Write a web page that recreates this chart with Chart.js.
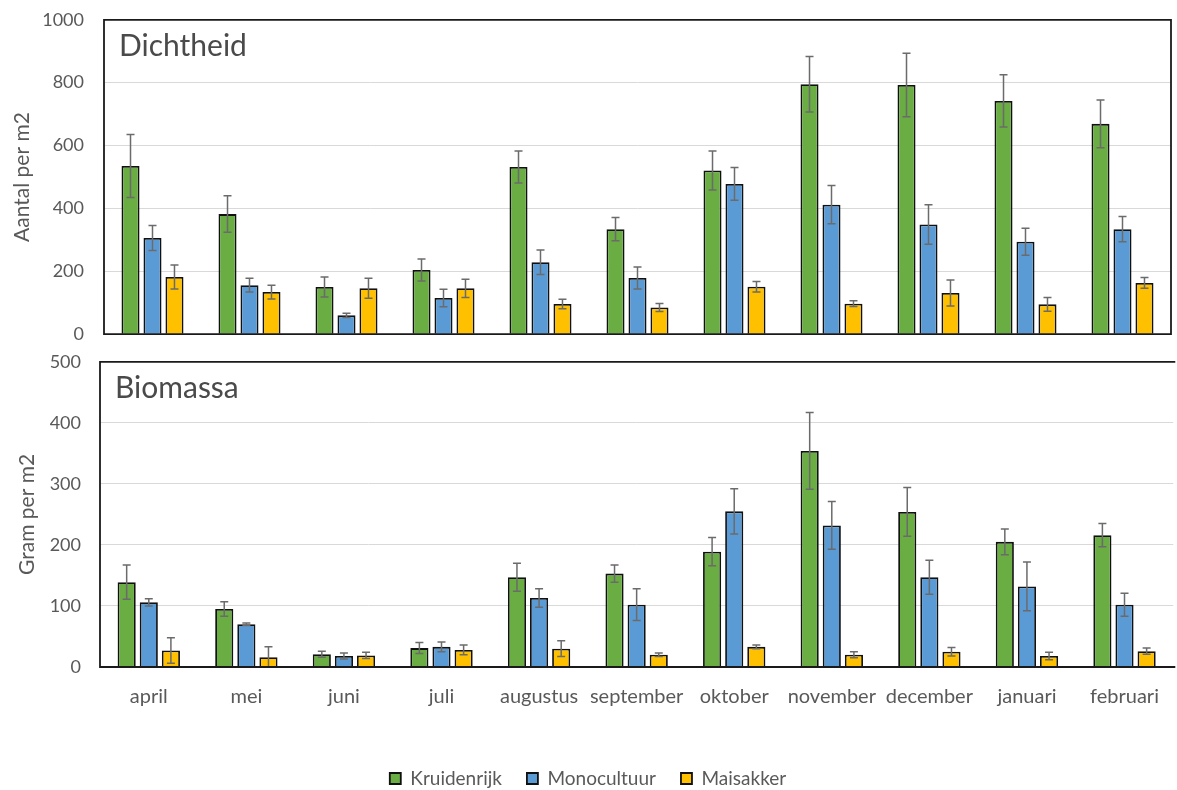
<!DOCTYPE html>
<html>
<head>
<meta charset="utf-8">
<script src="https://cdn.jsdelivr.net/npm/chart.js"></script>
<style>
  html, body { margin: 0; padding: 0; background: #fff; overflow: hidden; }
  #top { position: absolute; left: 0; top: -11px; }
  #bottom { position: absolute; left: 0; top: 332px; }
</style>
</head>
<body>
<canvas id="top" width="1177" height="376"></canvas>
<canvas id="bottom" width="1177" height="490"></canvas>
<script>
// maanden
const months = ['april', 'mei', 'juni', 'juli', 'augustus', 'september', 'oktober',
                'november', 'december', 'januari', 'februari'];
const seriesNames = ['Kruidenrijk', 'Monocultuur', 'Maisakker'];

// Dichtheid (aantal per m2)
const densKruid    = [535, 382, 150, 204, 532, 334, 521, 795, 793, 742, 669];
const densKruidErr = [100,  58,  32,  35,  51,  37,  62,  88, 101,  83,  76];
const densMono     = [306, 156,  60, 115, 229, 179, 478, 412, 349, 294, 334];
const densMonoErr  = [ 40,  22,   7,  28,  39,  35,  52,  61,  63,  43,  40];
const densMais     = [182, 134, 146, 146,  96,  85, 151,  97, 131,  95, 163];
const densMaisErr  = [ 38,  22,  32,  29,  15,  13,  17,   9,  41,  22,  17];

// Biomassa (gram per m2)
const bioKruid    = [139,  95, 21, 31, 147, 153, 189, 354, 254, 205, 216];
const bioKruidErr = [ 28,  12,  5,  9,  23,  14,  23,  63,  40,  21,  19];
const bioMono     = [106,  70, 18, 33, 113, 102, 255, 232, 147, 132, 102];
const bioMonoErr  = [  6,   2,  5,  8,  15,  26,  37,  39,  28,  40,  19];
const bioMais     = [ 27,  16, 19, 28,  30,  20,  33,  20,  25,  18,  26];
const bioMaisErr  = [ 21,  17,  5,  8,  13,   3,   3,   5,   7,   6,   5];

const colors = ['#69ad43', '#5b9bd5', '#ffc000'];
const FONT = 'Lato, "Open Sans", sans-serif';
const TEXT = '#595959';

// foutbalken
const errorBars = {
    id: 'errorBars',
    afterDatasetsDraw(chart) {
        const ctx = chart.ctx;
        const y = chart.scales.y;
        ctx.save();
        ctx.strokeStyle = '#6b6b6b';
        ctx.lineWidth = 1.5;
        chart.data.datasets.forEach((ds, i) => {
            const meta = chart.getDatasetMeta(i);
            meta.data.forEach((bar, j) => {
                const v = ds.data[j], e = ds.errors[j];
                const yt = y.getPixelForValue(v + e);
                const yb = y.getPixelForValue(Math.max(0, v - e));
                ctx.beginPath();
                ctx.moveTo(bar.x, yt); ctx.lineTo(bar.x, yb);
                ctx.moveTo(bar.x - 4, yt); ctx.lineTo(bar.x + 4, yt);
                ctx.moveTo(bar.x - 4, yb); ctx.lineTo(bar.x + 4, yb);
                ctx.stroke();
            });
        });
        ctx.restore();
    }
};

// kader + paneeltitel
const panelFrame = {
    id: 'panelFrame',
    afterDraw(chart, args, opts) {
        const {ctx, chartArea: a} = chart;
        ctx.save();
        ctx.strokeStyle = '#1a1a1a';
        ctx.lineWidth = 1.8;
        ctx.beginPath();
        if (opts.right) {
            ctx.rect(a.left, a.top, a.right - a.left, a.bottom - a.top);
        } else {
            ctx.moveTo(a.right + 2, a.top); ctx.lineTo(a.left, a.top);
            ctx.lineTo(a.left, a.bottom); ctx.lineTo(a.right + 2, a.bottom);
        }
        ctx.stroke();
        ctx.fillStyle = '#4a4a4a';
        ctx.font = '30px ' + FONT;
        ctx.textBaseline = 'middle';
        ctx.fillText(opts.text, a.left + 15, a.top + 27);
        ctx.restore();
    }
};

function makeDatasets(values, errors) {
    return seriesNames.map((name, i) => ({
        label: name,
        data: values[i],
        errors: errors[i],
        backgroundColor: colors[i],
        borderColor: '#111',
        borderWidth: 1.8,
        categoryPercentage: 0.68,
        barPercentage: 0.82
    }));
}

function makeChart(id, cfg) {
    return new Chart(document.getElementById(id), {
        type: 'bar',
        data: {
            labels: months,
            datasets: makeDatasets(cfg.values, cfg.errors)
        },
        options: {
            responsive: false,
            animation: false,
            layout: { padding: cfg.padding },
            plugins: {
                legend: cfg.legend,
                tooltip: { enabled: false },
                panelFrame: { text: cfg.title, right: cfg.rightBorder }
            },
            scales: {
                x: cfg.x,
                y: {
                    min: 0,
                    max: cfg.max,
                    afterFit: s => { s.width = cfg.axisWidth; },
                    ticks: {
                        stepSize: cfg.step,
                        padding: cfg.tickPad,
                        color: TEXT,
                        font: { family: FONT, size: 18 },
                        callback: v => String(v)
                    },
                    grid: { color: '#d9d9d9', drawTicks: false },
                    border: { display: false },
                    title: {
                        display: true,
                        text: cfg.yTitle,
                        color: TEXT,
                        font: { family: FONT, size: 21 },
                        padding: cfg.titlePad
                    }
                }
            }
        },
        plugins: [errorBars, panelFrame]
    });
}

makeChart('top', {
    values: [densKruid, densMono, densMais],
    errors: [densKruidErr, densMonoErr, densMaisErr],
    title: 'Dichtheid',
    yTitle: 'Aantal per m2',
    max: 1000, step: 200,
    axisWidth: 104, tickPad: 20,
    titlePad: { top: 10, bottom: 0 },
    rightBorder: true,
    padding: { top: 9, right: 6, bottom: 11, left: 0 },
    legend: { display: false },
    x: { display: false }
});

makeChart('bottom', {
    values: [bioKruid, bioMono, bioMais],
    errors: [bioKruidErr, bioMonoErr, bioMaisErr],
    title: 'Biomassa',
    yTitle: 'Gram per m2',
    max: 500, step: 100,
    axisWidth: 100, tickPad: 19,
    titlePad: { top: 15, bottom: 0 },
    rightBorder: false,
    padding: { top: 4, right: 1, bottom: 24, left: 0 },
    legend: {
        position: 'bottom',
        labels: {
            color: TEXT,
            font: { family: FONT, size: 19 },
            boxWidth: 11,
            boxHeight: 11,
            padding: 25
        }
    },
    x: {
        afterFit: s => { s.height = 77; },
        grid: { display: false, drawTicks: false },
        border: { display: false },
        ticks: { autoSkip: false, maxRotation: 0, padding: 18, color: TEXT, font: { family: FONT, size: 20 } }
    }
});
</script>
</body>
</html>
